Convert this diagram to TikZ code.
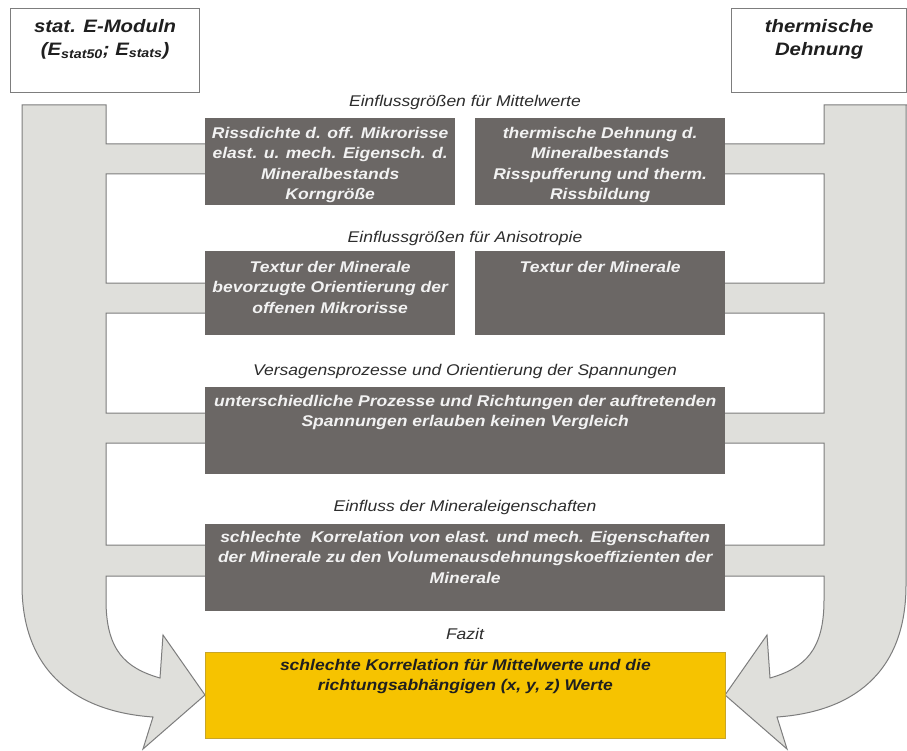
\documentclass[tikz,border=0pt]{standalone}
\usepackage{fontspec}
\setmainfont{Liberation Sans}[FakeStretch=1.13]
\definecolor{boxgrey}{RGB}{107,103,101}
\definecolor{arrowfill}{RGB}{223,223,219}
\definecolor{arrowline}{RGB}{125,125,125}
\definecolor{fazitcol}{RGB}{246,195,0}
\definecolor{fazitline}{RGB}{200,165,40}
\definecolor{boxtextcol}{RGB}{242,242,242}
\definecolor{headcol}{RGB}{45,45,45}
\tikzset{
  darkbox/.style={fill=boxgrey, draw=none, inner sep=0pt, anchor=north west},
  yellowbox/.style={fill=fazitcol, draw=fazitline, line width=0.8pt, inner sep=0pt, anchor=north west},
  boxtext/.style={anchor=north, align=center, text=boxtextcol, font=\fontsize{15.5}{20.5}\selectfont\bfseries\itshape, inner sep=0pt},
  fazittext/.style={anchor=north, align=center, text=black!88, font=\fontsize{15.5}{20.5}\selectfont\bfseries\itshape, inner sep=0pt},
  heading/.style={font=\fontsize{15.5}{18}\selectfont\itshape, text=headcol, inner sep=0pt},
  topbox/.style={draw=arrowline, line width=1.2pt, fill=white, inner sep=0pt, anchor=north west},
  toptext/.style={anchor=north, align=center, text=black!88, font=\fontsize{18}{23}\selectfont\bfseries\itshape, inner sep=0pt},
  arrowshape/.style={fill=arrowfill, draw=arrowline, line width=1pt, line join=miter}
}
\begin{document}
\begin{tikzpicture}[x=1pt,y=-1pt]
\useasboundingbox[fill=white] (0,0) rectangle (907,751);
% left side arrow
\filldraw[arrowshape] (22,105) -- (106,105) -- (106,144) -- (212,144) -- (212,174) -- (106,174)
  -- (106,283) -- (212,283) -- (212,313) -- (106,313)
  -- (106,413) -- (212,413) -- (212,443) -- (106,443)
  -- (106,545) -- (212,545) -- (212,576) -- (106,576)
  -- (106,600) .. controls (106,650) and (125,668) .. (160,678)
  -- (163,635) -- (205,695) -- (143,749) -- (153,717)
  .. controls (80,712) and (22,675) .. (22,585) -- cycle;
% right side arrow (mirror about x=465)
\filldraw[arrowshape] (908,105) -- (824,105) -- (824,144) -- (718,144) -- (718,174) -- (824,174)
  -- (824,283) -- (718,283) -- (718,313) -- (824,313)
  -- (824,413) -- (718,413) -- (718,443) -- (824,443)
  -- (824,545) -- (718,545) -- (718,576) -- (824,576)
  -- (824,600) .. controls (824,650) and (805,668) .. (770,678)
  -- (767,635) -- (725,695) -- (787,749) -- (777,717)
  .. controls (850,712) and (906,675) .. (906,585) -- (906,105) -- cycle;
% top boxes
\node[topbox, minimum width=189pt, minimum height=84pt] (emod) at (10,8) {};
\node[toptext] (emodt) at ([yshift=-11pt]emod.north) {stat. E-Moduln\\(E\textsubscript{stat50}; E\textsubscript{stats})};
\node[topbox, minimum width=175pt, minimum height=84pt] (therm) at (731,8) {};
\node[toptext] (thermt) at ([yshift=-11pt]therm.north) {thermische\\Dehnung};
% headings
\node[heading] (h1) at (465,102) {Einflussgrößen für Mittelwerte};
\node[heading] (h2) at (465,238) {Einflussgrößen für Anisotropie};
\node[heading] (h3) at (465,371) {Versagensprozesse und Orientierung der Spannungen};
\node[heading] (h4) at (465,507) {Einfluss der Mineraleigenschaften};
\node[heading] (h5) at (465,634) {Fazit};
% dark boxes
\node[darkbox, minimum width=250pt, minimum height=87pt] (b1) at (205,118) {};
\node[boxtext] (b1t) at ([yshift=-9pt]b1.north) {Rissdichte d. off. Mikrorisse\\elast. u. mech. Eigensch. d.\\Mineralbestands\\Korngröße};
\node[darkbox, minimum width=250pt, minimum height=87pt] (b2) at (475,118) {};
\node[boxtext] (b2t) at ([yshift=-9pt]b2.north) {thermische Dehnung d.\\Mineralbestands\\Risspufferung und therm.\\Rissbildung};
\node[darkbox, minimum width=250pt, minimum height=84pt] (b3) at (205,251) {};
\node[boxtext] (b3t) at ([yshift=-10pt]b3.north) {Textur der Minerale\\bevorzugte Orientierung der\\offenen Mikrorisse};
\node[darkbox, minimum width=250pt, minimum height=84pt] (b4) at (475,251) {};
\node[boxtext] (b4t) at ([yshift=-10pt]b4.north) {Textur der Minerale};
\node[darkbox, minimum width=520pt, minimum height=87pt] (b5) at (205,387) {};
\node[boxtext] (b5t) at ([yshift=-8pt]b5.north) {unterschiedliche Prozesse und Richtungen der auftretenden\\Spannungen erlauben keinen Vergleich};
\node[darkbox, minimum width=520pt, minimum height=87pt] (b6) at (205,524) {};
\node[boxtext] (b6t) at ([yshift=-7pt]b6.north) {schlechte\ \ Korrelation von elast. und mech. Eigenschaften\\der Minerale zu den Volumenausdehnungskoeffizienten der\\Minerale};
% fazit box
\node[yellowbox, minimum width=520pt, minimum height=86pt] (fz) at (205,652) {};
\node[fazittext] (fzt) at ([yshift=-7pt]fz.north) {schlechte Korrelation für Mittelwerte und die\\richtungsabhängigen (x, y, z) Werte};
\end{tikzpicture}
\end{document}
